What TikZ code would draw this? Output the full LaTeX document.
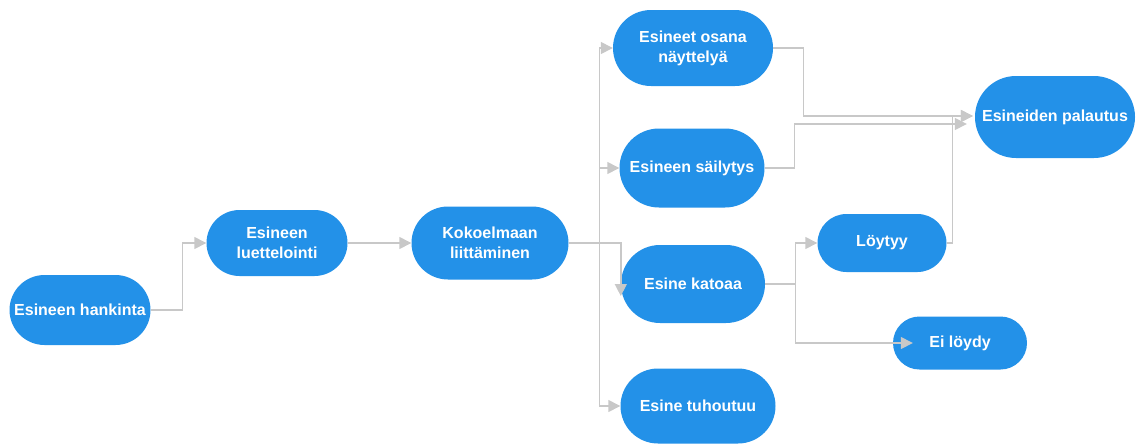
\documentclass[tikz,border=0pt]{standalone}
\usepackage{fontspec}
\setmainfont{Liberation Sans}
\usetikzlibrary{calc}
\usetikzlibrary{positioning}
\usetikzlibrary{arrows.meta,shapes.misc}
\definecolor{stageblue}{RGB}{35,145,232}
\definecolor{linkgray}{RGB}{200,200,200}
\tikzset{
  stage/.style={rounded rectangle, fill=stageblue, text=white, align=center,
    inner sep=0pt, font=\bfseries\fontsize{16}{20}\selectfont},
  link/.style={draw=linkgray, line width=1.4pt,
    -{Triangle[length=12pt,width=12pt]}},
}

\begin{document}
\begin{tikzpicture}[x=1pt,y=-1pt]
  \useasboundingbox (0,0) rectangle (1138,445);

  % main line
  \node[stage, minimum width=141pt, minimum height=70pt] (hankinta) at (80,310) {Esineen hankinta};
  \node[stage, minimum width=141pt, minimum height=66pt] (luettelointi) at (277,243) {Esineen\\luettelointi};
  \node[stage, minimum width=157pt, minimum height=73pt] (liittaminen) at (490,243) {Kokoelmaan\\liittäminen};

  % fan out
  \node[stage, minimum width=160pt, minimum height=76pt] (nayttely) at (693,48) {Esineet osana\\näyttelyä};
  \node[stage, minimum width=145pt, minimum height=79pt] (sailytys) at (692,168) {Esineen säilytys};
  \node[stage, minimum width=144pt, minimum height=78pt] (katoaa) at (693,284) {Esine katoaa};
  \node[stage, minimum width=155pt, minimum height=75pt] (tuhoutuu) at (698,406) {Esine tuhoutuu};

  % right side
  \node[stage, minimum width=160pt, minimum height=82pt] (palautus) at (1055,117) {Esineiden palautus};
  \node[stage, minimum width=129pt, minimum height=58pt] (loytyy) at (882,243) {Löytyy};
  \node[stage, minimum width=134pt, minimum height=53pt] (eiloydy) at (960,343) {Ei löydy};

  % connectors
  \draw[link] (hankinta.east) -- ++(32,0) |- (luettelointi.west);
  \draw[link] (luettelointi.east) -- (liittaminen.west);
  \coordinate (split) at ($(liittaminen.east)+(31,0)$);
  \draw[link] (liittaminen.east) -| ($(katoaa.west)+(0,12)$);
  \draw[link] (split) |- (nayttely.west);
  \draw[link] (split) |- (sailytys.west);
  \draw[link] (split) |- (tuhoutuu.west);

  \draw[link] (nayttely.east) -- ++(30,0) |- ($(palautus.west)+(-2,-1)$);
  \draw[link] (sailytys.east) -- ++(30,0) |- ($(palautus.west)+(-8,7)$);
  \draw[link] (loytyy.east) -- ++(6,0) |- ($(palautus.west)+(-2,-1)$);

  \coordinate (fork) at ($(katoaa.east)+(30,0)$);
  \draw[linkgray, line width=1.4pt] (katoaa.east) -- (fork);
  \draw[link] (fork) |- (loytyy.west);
  \draw[link] (fork) |- ($(eiloydy.west)+(20,0)$);
\end{tikzpicture}
\end{document}
